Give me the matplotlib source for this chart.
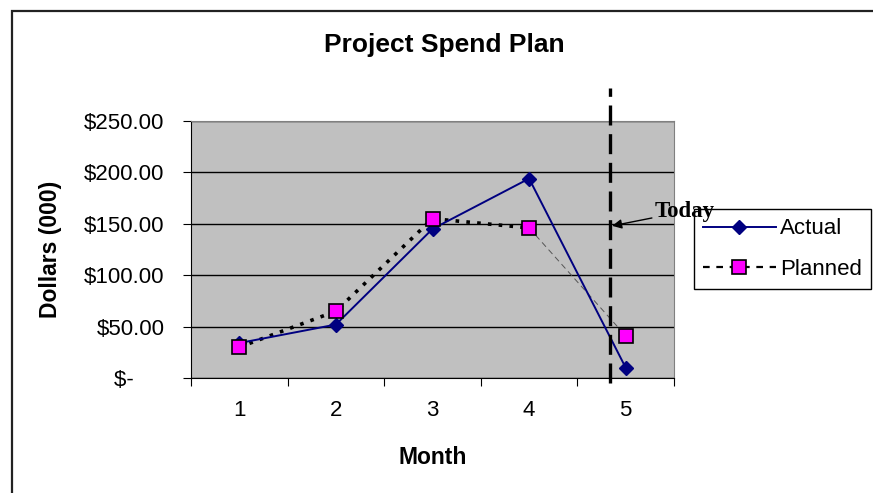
import matplotlib.pyplot as plt
from matplotlib.lines import Line2D
from matplotlib.patches import Rectangle

# chart data
months = [1, 2, 3, 4, 5]
actual = [34, 52, 145, 194, 10]
planned = [30, 65, 155, 146, 41]
ytick_vals = [0, 50, 100, 150, 200, 250]
ytick_labels = ["$-     ", "$50.00", "$100.00", "$150.00", "$200.00", "$250.00"]
today_x = 4.84


def main():
    plt.rcParams['font.family'] = ['Liberation Sans', 'DejaVu Sans']
    fig = plt.figure(figsize=(8.73, 4.93), dpi=100)
    ax = fig.add_axes([191 / 873, 115 / 493, 483 / 873, 257 / 493])
    ax.set_facecolor('#C0C0C0')

    # outer chart frame (right/bottom edges fall off the page)
    fig.add_artist(Rectangle((12 / 873, -0.2), 1.3, 1.2 - 11 / 493,
                             transform=fig.transFigure, fill=False,
                             edgecolor='#222222', lw=1.6))

    ax.set_xlim(0.5, 5.5)
    ax.set_ylim(0, 250)
    ax.set_yticks(ytick_vals)
    ax.set_yticklabels(ytick_labels)
    ax.yaxis.grid(True, color='black', lw=1)
    ax.set_axisbelow(True)

    # category axis: tick marks between categories, labels on categories
    ax.set_xticks([0.5, 1.5, 2.5, 3.5, 4.5, 5.5])
    ax.set_xticklabels([])
    ax.set_xticks(months, minor=True)
    ax.set_xticklabels([str(m) for m in months], minor=True)
    ax.tick_params(axis='x', which='minor', length=0, pad=16, labelsize=16)
    ax.tick_params(axis='x', which='major', length=6, direction='out')
    ax.tick_params(axis='y', length=6, direction='out', pad=13, labelsize=16)

    for s in ['top', 'right']:
        ax.spines[s].set_color('#808080')
    for s in ['left', 'bottom']:
        ax.spines[s].set_color('black')

    ax.plot(months, actual, color='#000080', lw=1.4, marker='D', ms=7,
            mfc='#000080', mec='#000080', zorder=4)
    ax.plot(months[:4], planned[:4], color='black', lw=2.6,
            linestyle=(0, (1, 2)), zorder=3)
    ax.plot(months[3:], planned[3:], color='#555555', lw=0.7,
            linestyle=(0, (6, 4)), zorder=3)
    ax.plot(months, planned, linestyle='none', marker='s', ms=10,
            mfc='#FF00FF', mec='black', mew=1.2, zorder=5)

    # today marker
    ax.axvline(today_x, ymin=-0.02, ymax=1.128, color='black', lw=2.4,
               dashes=(6, 2.6), clip_on=False, zorder=6)
    ax.annotate("Today", xy=(today_x + 0.02, 148), xytext=(5.3, 162),
                fontsize=16.5, fontweight='bold', family='Liberation Serif',
                va='center', ha='left', annotation_clip=False, zorder=20,
                arrowprops=dict(arrowstyle='-|>', color='black', lw=1,
                                mutation_scale=14, shrinkA=0, shrinkB=0))

    fig.text(444 / 873, 1 - 45 / 493, "Project Spend Plan", fontsize=19,
             fontweight='bold', ha='center', va='center')
    ax.set_xlabel("Month", fontsize=16.5, fontweight='bold', labelpad=18)
    ax.set_ylabel("Dollars (000)", fontsize=16.5, fontweight='bold',
                  labelpad=16)

    handles = [
        Line2D([], [], color='#000080', lw=1.4, marker='D', ms=7,
               mfc='#000080', mec='#000080'),
        Line2D([], [], color='black', lw=1.6, linestyle=(0, (3, 3)),
               marker='s', ms=10, mfc='#FF00FF', mec='black', mew=1.2),
    ]
    leg = ax.legend(handles, ["Actual", "Planned"], loc='upper left',
                    bbox_to_anchor=(694 / 873, 1 - 209 / 493),
                    bbox_transform=fig.transFigure, fontsize=16,
                    frameon=True, fancybox=False, edgecolor='black',
                    framealpha=1, handlelength=3.25, borderpad=0.42,
                    labelspacing=0.88, handletextpad=0.2, borderaxespad=0)
    leg.set_zorder(10)
    leg.set_clip_on(False)

    plt.savefig("out.png", dpi=100)


if __name__ == "__main__":
    main()
